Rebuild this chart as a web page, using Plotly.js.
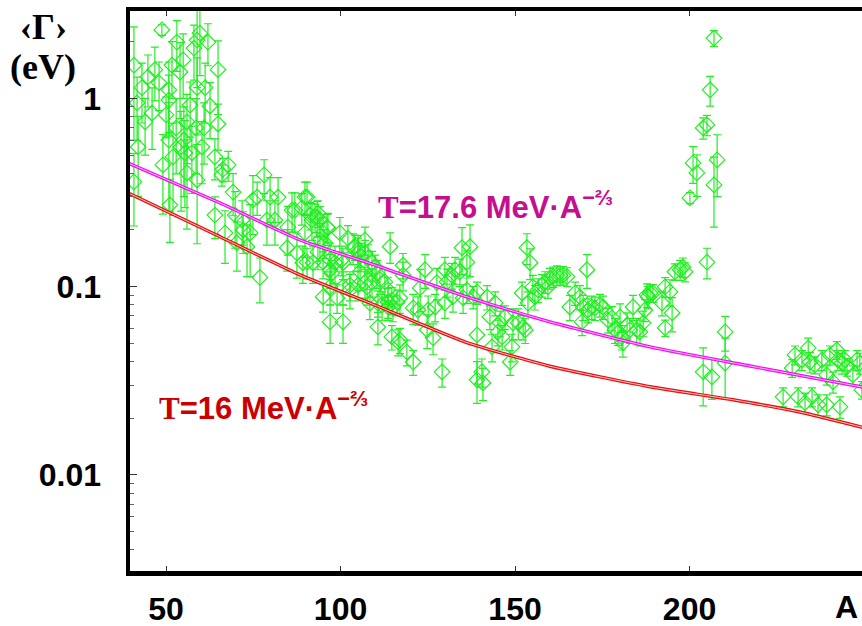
<!DOCTYPE html>
<html>
<head>
<meta charset="utf-8">
<script src="https://cdn.plot.ly/plotly-3.0.1.min.js"></script>
<style>
html,body{margin:0;padding:0;overflow:hidden;background:#fff;}
#chart{width:870px;height:626px;}
</style>
</head>
<body>
<div id="chart"></div>
<script>
// ---- data: mass number A, average width <Gamma> (eV), error (eV) ----
const massLight = [40.8,41.7,42.0,40.8,43.1,44.0,44.8,46.0,46.8,48.0,
  48.8,49.1,50.0,50.8,50.8,50.8,51.7,52.0,51.1,53.1,52.9,54.0,
  54.3,54.9,55.1,55.4,56.0,56.0,56.9,57.4,58.0,58.6,58.9,58.9,
  58.9,59.7,60.3,60.9,61.2,62.0,62.6,64.0,64.9,64.9,64.0,66.0,
  66.3,67.8,66.9,69.2,69.8,70.3,71.8,72.1,73.2,74.1,74.9,76.1,
  76.9,78.1,78.9,79.8,81.2,82.1,84.7,84.9,86.1,86.9,87.5];
const gammaLight = [1.50,0.946,0.552,0.360,1.14,0.750,1.30,0.836,1.42,1.21,
  2.31,0.443,0.817,1.11,0.98,0.601,1.50,0.489,0.272,1.99,0.697,1.38,
  0.552,1.60,0.601,0.513,0.402,0.750,0.922,0.513,1.85,0.697,2.04,1.14,
  0.369,2.22,0.552,0.697,1.14,1.99,0.911,0.489,1.42,0.731,0.240,0.392,
  0.420,0.443,0.193,0.318,0.240,0.171,0.226,0.200,0.163,0.193,0.289,0.299,
  0.112,0.392,0.226,0.299,0.226,0.299,0.161,0.207,0.255,0.255,0.151];
const errLight = [0.90,0.35,0.25,0.15,0.40,0.25,0.40,0.30,0.45,0.35,
  0.15,0.20,0.20,0.45,0.35,0.35,0.50,0.25,0.10,0.60,0.30,0.60,
  0.30,0.60,0.30,0.25,0.20,0.30,0.30,0.20,0.60,0.30,0.90,0.50,
  0.20,0.90,0.20,0.25,0.40,0.50,0.30,0.12,0.60,0.20,0.06,0.05,
  0.06,0.08,0.06,0.08,0.08,0.05,0.06,0.05,0.05,0.08,0.10,0.06,
  0.03,0.08,0.06,0.08,0.06,0.08,0.04,0.06,0.06,0.06,0.04];

const massMid = [88.9,90.4,90.4,91.8,93.3,94.1,96.4,97.0,103.6,105.0,102.7,107.6,105.6,
  89.8,89.8,89.2,91.3,92.7,93.5,94.1,95.0,95.5,96.1,92.1,93.5,95.0,97.0,97.5,97.0,97.0,98.4,99.8,100.4,100.7,102.1,100.7,99.0,95.0,
  104.1,105.0,105.6,107.0,107.0,107.9,109.0,109.9,110.4,111.3,112.7,113.6,100.7,102.7,105.0,107.0,109.0,
  108.4,110.7,110.7,111.9,113.6,114.7,116.2,117.0,115.0,113.6,114.2,114.7,116.5,117.0,119.0,120.8,117.9,117.9,120.8,122.2,
  122.8,124.2,125.1,124.8,126.5,127.1,127.6,129.1,130.5,129.9,129.9,131.9,132.2,132.8,134.8,134.2,135.1];
const gammaMid = [0.262,0.299,0.135,0.226,0.234,0.177,0.205,0.123,0.161,0.151,0.0962,0.0997,0.120,
  0.299,0.193,0.134,0.240,0.234,0.246,0.226,0.193,0.171,0.207,0.134,0.153,0.135,0.139,0.118,0.0997,0.0650,0.134,0.193,0.139,0.134,0.181,0.0650,0.0871,0.0882,
  0.163,0.157,0.145,0.177,0.151,0.142,0.134,0.127,0.118,0.109,0.106,0.0962,0.0997,0.102,0.102,0.105,0.106,
  0.0819,0.0819,0.0611,0.0799,0.0829,0.0850,0.0829,0.0871,0.0771,0.0780,0.163,0.0541,0.0509,0.0521,0.0450,0.0398,0.130,0.115,0.0771,0.0752,
  0.0985,0.123,0.0752,0.0589,0.0535,0.0780,0.105,0.0353,0.106,0.0819,0.123,0.115,0.0882,0.123,0.161,0.120,0.0871];
const errMid = [0.05,0.06,0.025,0.05,0.05,0.04,0.04,0.025,0.03,0.03,0.02,0.02,0.025,
  0.06,0.05,0.03,0.04,0.04,0.04,0.04,0.04,0.03,0.035,0.03,0.03,0.025,0.03,0.02,0.02,0.015,0.03,0.04,0.025,0.025,0.03,0.015,0.015,0.015,
  0.025,0.03,0.025,0.03,0.025,0.025,0.02,0.02,0.02,0.018,0.018,0.016,0.02,0.018,0.018,0.018,0.018,
  0.015,0.013,0.012,0.014,0.015,0.014,0.013,0.015,0.012,0.012,0.03,0.008,0.008,0.008,0.007,0.006,0.02,0.02,0.014,0.013,
  0.025,0.025,0.014,0.012,0.01,0.013,0.02,0.006,0.018,0.014,0.02,0.018,0.015,0.02,0.045,0.02,0.015];

const massHeavy = [136.2,137.1,136.2,138.0,139.1,139.1,139.1,140.5,140.8,142.0,
  142.8,143.4,144.3,145.1,145.7,146.3,147.1,148.6,149.1,149.4,
  150.9,152.0,152.3,152.9,153.4,153.7,154.3,155.1,155.7,156.6,
  157.7,158.6,159.4,160.0,160.9,162.0,162.9,163.7,164.9,165.7,
  167.2,168.6,169.2,169.5,170.6,170.9,172.0,172.9,174.3,175.2,
  176.6,177.8,178.6,180.1,180.6,180.9,182.1,182.9,183.8,184.9,
  185.8,186.7,187.8,
  179.5,187.2,188.1,188.7,189.5,192.1,193.0,193.0,194.4,195.0,195.8,197.3,198.1,198.7];
const gammaHeavy = [0.135,0.163,0.0962,0.0882,0.0938,0.0554,0.0320,0.0353,0.0308,0.0882,
  0.0691,0.0479,0.0819,0.0575,0.0642,0.0541,0.0691,0.0398,0.0479,0.0642,
  0.0642,0.0926,0.0611,0.0589,0.161,0.0819,0.134,0.0997,0.0882,0.0962,
  0.102,0.106,0.0997,0.111,0.113,0.115,0.115,0.115,0.113,0.0780,
  0.0926,0.0882,0.0650,0.0780,0.123,0.0752,0.0780,0.0771,0.0799,0.0780,
  0.0666,0.0683,0.0589,0.0691,0.0541,0.0503,0.0626,0.0589,0.0780,0.0589,
  0.0575,0.0642,0.0904,
  0.0568,0.0752,0.0882,0.0926,0.0926,0.0819,0.0604,0.0997,0.0938,0.0725,0.120,0.123,0.127,0.120];
const errHeavy = [0.02,0.05,0.015,0.012,0.012,0.025,0.008,0.006,0.006,0.013,
  0.01,0.008,0.012,0.009,0.01,0.008,0.01,0.006,0.008,0.012,
  0.012,0.013,0.009,0.009,0.03,0.012,0.025,0.015,0.013,0.014,
  0.014,0.014,0.013,0.014,0.014,0.014,0.013,0.013,0.013,0.012,
  0.013,0.013,0.01,0.012,0.025,0.011,0.011,0.011,0.011,0.011,
  0.01,0.01,0.009,0.012,0.008,0.008,0.01,0.009,0.012,0.009,
  0.009,0.01,0.013,
  0.008,0.01,0.012,0.01,0.01,0.012,0.006,0.012,0.015,0.015,0.012,0.015,0.015,0.014];

const massPb = [200.1,201.0,202.1,203.9,205.0,205.9,207.0,207.0,207.9,205.0,203.9,206.4,210.2,210.2];
const gammaPb = [0.296,0.454,0.402,0.697,0.723,1.11,2.09,0.347,0.471,0.135,0.0353,0.0332,0.0575,0.0393];
const errPb = [0.02,0.10,0.10,0.09,0.09,0.20,0.20,0.14,0.17,0.025,0.012,0.008,0.012,0.014];

const massAct = [226.8,229.4,230.2,231.1,232.2,233.1,234.0,234.5,235.1,235.9,236.8,237.9,239.3,
  239.3,240.2,241.1,242.2,242.5,243.1,243.7,244.5,245.1,246.8,248.0,248.8,249.4];
const gammaAct = [0.0260,0.0370,0.0434,0.0260,0.0408,0.0242,0.0473,0.0398,0.0260,0.0384,0.0236,0.0408,0.0236,
  0.0340,0.0434,0.0312,0.0461,0.0408,0.0230,0.0393,0.0408,0.0375,0.0340,0.0408,0.0393,0.0283];
const errAct = [0.003,0.004,0.005,0.003,0.005,0.003,0.006,0.005,0.003,0.004,0.003,0.005,0.003,
  0.004,0.005,0.004,0.005,0.005,0.003,0.005,0.005,0.004,0.004,0.005,0.005,0.003];

// model curves
const curveHighA = [39.1,65.5,88.4,108.4,136.2,160.0,188.7,217.3,251.7];
const curveHighG = [0.454,0.278,0.177,0.133,0.0883,0.0650,0.0479,0.0379,0.0288];
const curveLowA = [39.1,65.5,88.4,108.4,136.2,160.0,188.7,212.4,231.6,251.7];
const curveLowG = [0.315,0.184,0.1155,0.0819,0.0505,0.0378,0.0294,0.0251,0.0216,0.0175];

const yTickVals = [0.01,0.1,1];
const yTickText = ['0.01','0.1','1'];
const yMinorVals = [0.004,0.005,0.006,0.007,0.008,0.009,
  0.02,0.03,0.04,0.05,0.06,0.07,0.08,0.09,
  0.2,0.3,0.4,0.5,0.6,0.7,0.8,0.9,2,3];
const xTickVals = [50,100,150,200];
const xTickText = ['50','100','150','200'];

// ---- plotting ----
const allA = [].concat(massLight, massMid, massHeavy, massPb, massAct);
const allG = [].concat(gammaLight, gammaMid, gammaHeavy, gammaPb, gammaAct);
const allE = [].concat(errLight, errMid, errHeavy, errPb, errAct);

const green = '#22ee22';
const traces = [
  {x: allA, y: allG, type:'scatter', mode:'markers',
   marker:{symbol:'diamond-open', size:12, color:green, line:{width:1.2, color:green}},
   error_y:{type:'data', array: allE, visible:true, color:green, thickness:1.2, width:4},
   hoverinfo:'skip'},
  {x: curveHighA, y: curveHighG, type:'scatter', mode:'lines',
   line:{color:'#f010f0', width:3.4, shape:'spline', smoothing:0.5}, hoverinfo:'skip'},
  {x: curveHighA, y: curveHighG, type:'scatter', mode:'lines',
   line:{color:'#ffb8ff', width:1, shape:'spline', smoothing:0.5}, hoverinfo:'skip'},
  {x: curveLowA, y: curveLowG, type:'scatter', mode:'lines',
   line:{color:'#e81010', width:3.4, shape:'spline', smoothing:0.5}, hoverinfo:'skip'},
  {x: curveLowA, y: curveLowG, type:'scatter', mode:'lines',
   line:{color:'#ffc4c4', width:1, shape:'spline', smoothing:0.5}, hoverinfo:'skip'},
  // carrier for the minor-tick overlay axis
  {x:[null], y:[null], type:'scatter', mode:'markers', yaxis:'y2', showlegend:false, hoverinfo:'skip'}
];

const tickFont = {family:'Liberation Sans, Arial, sans-serif', size:32, color:'#000', weight:'bold'};
const layout = {
  width:870, height:626,
  margin:{l:130, r:0, t:11, b:55},
  paper_bgcolor:'#fff', plot_bgcolor:'#fff',
  showlegend:false,
  xaxis:{
    range:[39.67, 251.7], showgrid:false, zeroline:false,
    showline:true, linewidth:4.5, linecolor:'#000', mirror:'ticks',
    ticks:'inside', ticklen:5, tickwidth:1, tickcolor:'#333',
    tickmode:'array', tickvals:xTickVals, ticktext:xTickText,
    tickfont:tickFont, ticklabelstandoff:6
  },
  yaxis:{
    type:'log', range:[-2.510, 0.464], showgrid:false, zeroline:false,
    showline:true, linewidth:4.5, linecolor:'#000', mirror:'ticks',
    ticks:'inside', ticklen:7, tickwidth:1, tickcolor:'#333',
    tickmode:'array', tickvals:yTickVals, ticktext:yTickText,
    tickfont:tickFont, ticklabelstandoff:18
  },
  yaxis2:{
    type:'log', range:[-2.510, 0.464], overlaying:'y', side:'left', anchor:'x',
    showgrid:false, zeroline:false, showline:false,
    ticks:'inside', ticklen:4, tickwidth:1, tickcolor:'#666',
    tickmode:'array', tickvals:yMinorVals, showticklabels:false
  },
  annotations:[
    {xref:'paper', yref:'paper', x:(43-130)/740, y:(571-27)/560, text:'‹Γ›', showarrow:false,
     xanchor:'center', yanchor:'middle',
     font:{family:'Liberation Serif, Times New Roman, serif', size:36, color:'#000', weight:'bold'}},
    {xref:'paper', yref:'paper', x:(43-130)/740, y:(571-67)/560, text:'(eV)', showarrow:false,
     xanchor:'center', yanchor:'middle',
     font:{family:'Liberation Serif, Times New Roman, serif', size:36, color:'#000', weight:'bold'}},
    {xref:'paper', yref:'paper', x:(846-130)/740, y:(571-607)/560, text:'A', showarrow:false,
     xanchor:'center', yanchor:'middle', font:tickFont},
    {xref:'x', yref:'y', x:144.5, y:Math.log10(0.272), text:'<span style="font-family:Liberation Serif">T</span>=17.6 MeV·A<sup>−⅔</sup>',
     showarrow:false, xanchor:'center', yanchor:'middle',
     font:{family:'Liberation Sans, Arial, sans-serif', size:31, color:'#c4108e', weight:'bold'}},
    {xref:'x', yref:'y', x:77.8, y:Math.log10(0.0232), text:'<span style="font-family:Liberation Serif">T</span>=16 MeV·A<sup>−⅔</sup>',
     showarrow:false, xanchor:'center', yanchor:'middle',
     font:{family:'Liberation Sans, Arial, sans-serif', size:31, color:'#cc0000', weight:'bold'}}
  ]
};

Plotly.newPlot('chart', traces, layout, {staticPlot:true, displayModeBar:false});
</script>
</body>
</html>
